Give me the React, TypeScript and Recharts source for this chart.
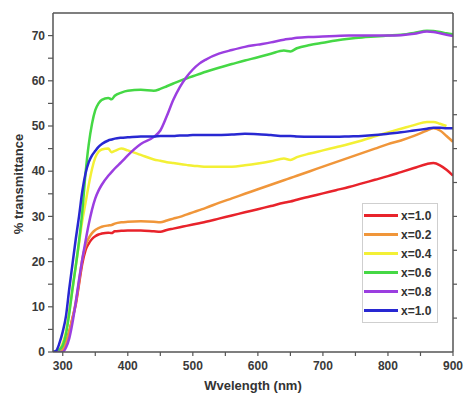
import { Legend, Line, LineChart, XAxis, YAxis } from "recharts";

// wavelength samples (nm)
const wavelengths = [
  285, 290, 295, 300, 305, 310, 315, 320, 325, 330, 335, 340, 345, 350, 355, 360, 370, 375, 380, 390,
  400, 420, 440, 450, 460, 470, 480, 490, 500, 510, 520, 540, 560, 580, 600, 620, 640, 650, 660, 680,
  700, 720, 740, 760, 780, 800, 820, 840, 860, 870, 880, 890, 900
];

const red10 = [
  0, 0, 0, 0.5, 2, 4.5, 7.5, 10.5, 15, 19.5, 22.5, 24, 25, 25.6, 26, 26.2, 26.4, 26.3, 26.7, 26.8,
  26.9, 26.9, 26.7, 26.6, 27, 27.3, 27.6, 27.9, 28.2, 28.5, 28.8, 29.5, 30.2, 30.9, 31.6, 32.3, 33, 33.3, 33.7, 34.4,
  35.1, 35.8, 36.5, 37.3, 38.1, 38.9, 39.8, 40.7, 41.6, 41.8, 41.3, 40.3, 39
];

const orange02 = [
  0, 0, 0, 0.5, 2, 4.5, 7.5, 11, 15.5, 20.5, 23.5, 25.2, 26.3, 27, 27.4, 27.7, 28, 28.1, 28.4, 28.7,
  28.8, 28.9, 28.8, 28.7, 29.1, 29.5, 29.9, 30.4, 30.9, 31.4, 31.9, 33, 34, 35, 36, 37, 38, 38.5, 39, 40,
  41, 42, 43, 44, 45, 46, 46.8, 47.8, 49, 49.5, 49, 47.8, 46.5
];

const yellow04 = [
  0, 0, 0.5, 2, 4.5, 9, 14, 19, 24, 29, 33, 37, 40.5, 43, 44.3, 44.8, 45, 44.2, 44.5, 45,
  44.6, 43.6, 42.6, 42.3, 42, 41.8, 41.6, 41.4, 41.2, 41.1, 41, 41, 41, 41.3, 41.7, 42.2, 42.8, 42.5, 43.1, 43.9,
  44.6, 45.3, 46, 46.8, 47.7, 48.6, 49.4, 50.2, 50.9, 50.9, 50.5, 50, null
];

const green06 = [
  0, 0, 0.5, 1.5, 4, 8.5, 14, 19, 24.5, 31, 39.5, 46, 50.5, 53.5, 55, 55.8, 56.2, 55.9, 56.7, 57.4,
  57.8, 58, 57.8, 58.2, 58.8, 59.4, 60, 60.5, 61, 61.5, 62, 62.9, 63.7, 64.5, 65.2, 66, 66.7, 66.5, 67.2, 67.9,
  68.4, 68.9, 69.3, 69.6, 69.8, 70, 70.2, 70.6, 71.1, 71, 70.8, 70.5, 70.3
];

const purple08 = [
  0, 0, 0, 0, 1, 3, 6.5, 11, 16, 20.5, 24.5, 28.3, 31.5, 34, 35.7, 37, 39, 39.8, 40.6, 42,
  43.5, 46, 47.6, 49, 52.2, 55.8, 58.6, 60.8, 62.5, 63.8, 64.7, 66, 66.8, 67.5, 68, 68.5, 69.1, 69.3, 69.5, 69.7,
  69.8, 69.9, 70, 70, 70, 70, 70.1, 70.4, 70.9, 70.8, 70.5, 70.2, 69.9
];

const blue10 = [
  0, 0.3, 2, 4.5, 8, 14, 19.5, 25, 30, 35.5, 39.5, 42, 43.5, 44.5, 45.4, 46, 46.8, 47, 47.2, 47.4,
  47.5, 47.7, 47.7, 47.8, 47.8, 47.8, 47.9, 47.9, 48, 48, 48, 48, 48.1, 48.3, 48.2, 48, 47.8, 47.8, 47.7, 47.6,
  47.6, 47.6, 47.7, 47.8, 48, 48.3, 48.6, 49, 49.4, 49.6, 49.6, 49.5, 49.5
];

const series = [
  { key: "s1", name: "x=1.0", color: "#e8232b", values: red10 },
  { key: "s2", name: "x=0.2", color: "#f0963a", values: orange02 },
  { key: "s3", name: "x=0.4", color: "#f3f035", values: yellow04 },
  { key: "s4", name: "x=0.6", color: "#45d845", values: green06 },
  { key: "s5", name: "x=0.8", color: "#9b3ee0", values: purple08 },
  { key: "s6", name: "x=1.0", color: "#2828d2", values: blue10 }
];

const xTicks = [300, 350, 400, 450, 500, 550, 600, 650, 700, 750, 800, 850, 900];
const yTicks = [0, 5, 10, 15, 20, 25, 30, 35, 40, 45, 50, 55, 60, 65, 70];
const topTicks = [346.5, 408, 469.5, 531, 592.5, 654, 715.5, 777, 838.5];
const rightTicks = [7.5, 15, 22.5, 30, 37.5, 45, 52.5, 60, 67.5];

const data = wavelengths.map((wl, i) => {
  const row: Record<string, number | null> = { wl };
  series.forEach((s) => {
    row[s.key] = s.values[i];
  });
  return row;
});

const FONT = "'Liberation Sans', Arial, sans-serif";
const AXIS = "#555";
const tickStyle = { fill: "#3a3a3a", fontSize: 12, fontWeight: 700, fontFamily: FONT };

function YTitle() {
  return (
    <text
      x={18}
      y={184}
      transform="rotate(-90 18 184)"
      textAnchor="middle"
      dominantBaseline="central"
      fill="#333"
      fontSize={13}
      fontWeight={700}
      fontFamily={FONT}
    >
      % transmittance
    </text>
  );
}

function LegendBox(props: any) {
  // keep the plotting order (s1..s6) instead of alphabetical
  const payload = [...(props.payload || [])].sort((a: any, b: any) =>
    String(a.dataKey).localeCompare(String(b.dataKey))
  );
  return (
    <div
      style={{
        border: "1px solid #cfcfcf",
        background: "#fff",
        padding: "2px 0",
        width: 76,
        boxSizing: "border-box"
      }}
    >
      {payload.map((p: any, i: number) => (
        <div key={i} style={{ display: "flex", alignItems: "center", height: 19 }}>
          <div style={{ width: 34, height: 3, background: p.color, marginLeft: 1, marginRight: 3 }} />
          <span style={{ fontFamily: FONT, fontSize: 12, fontWeight: 700, color: "#333" }}>{p.value}</span>
        </div>
      ))}
    </div>
  );
}

export default function App() {
  return (
    <div style={{ position: "absolute", left: 0, top: 0, background: "#fff" }}>
      <LineChart width={464} height={394} data={data} margin={{ top: 13, right: 0, left: 0, bottom: 0 }}>
        <XAxis
          dataKey="wl"
          type="number"
          domain={[285, 900]}
          ticks={xTicks}
          allowDataOverflow
          tickFormatter={(v: number) => (v % 100 === 0 ? String(v) : "")}
          tick={tickStyle}
          tickSize={4}
          tickMargin={5}
          height={42}
          axisLine={{ stroke: AXIS, strokeWidth: 1.5 }}
          tickLine={{ stroke: AXIS, strokeWidth: 1.2 }}
          label={{
            value: "Wvelength (nm)",
            position: "insideBottom",
            offset: 4,
            fill: "#333",
            fontSize: 13,
            fontWeight: 700,
            fontFamily: FONT
          }}
        />
        <XAxis
          xAxisId="top"
          orientation="top"
          type="number"
          domain={[285, 900]}
          ticks={topTicks}
          allowDataOverflow
          mirror
          tickFormatter={() => ""}
          tickSize={4}
          axisLine={{ stroke: AXIS, strokeWidth: 1.5 }}
          tickLine={{ stroke: AXIS, strokeWidth: 1.2 }}
        />
        <YAxis
          type="number"
          domain={[0, 75]}
          ticks={yTicks}
          allowDataOverflow
          tickFormatter={(v: number) => (v % 10 === 0 ? String(v) : "")}
          tick={tickStyle}
          tickSize={5}
          tickMargin={3}
          width={53}
          axisLine={{ stroke: AXIS, strokeWidth: 1.5 }}
          tickLine={{ stroke: AXIS, strokeWidth: 1.2 }}
          label={<YTitle />}
        />
        <YAxis
          yAxisId="right"
          orientation="right"
          type="number"
          domain={[0, 75]}
          ticks={rightTicks}
          allowDataOverflow
          tickFormatter={() => ""}
          tickSize={4}
          width={11}
          axisLine={{ stroke: AXIS, strokeWidth: 1.5 }}
          tickLine={{ stroke: AXIS, strokeWidth: 1.2 }}
        />
        <Legend
          layout="vertical"
          align="center"
          verticalAlign="middle"
          itemSorter="dataKey"
          wrapperStyle={{ left: 362, top: 203, width: 76, height: "auto" }}
          content={<LegendBox />}
        />
        {series.map((s) => (
          <Line
            key={s.key}
            dataKey={s.key}
            name={s.name}
            type="monotone"
            stroke={s.color}
            strokeWidth={2.5}
            dot={false}
            activeDot={false}
            connectNulls={false}
            isAnimationActive={false}
          />
        ))}
      </LineChart>
    </div>
  );
}
